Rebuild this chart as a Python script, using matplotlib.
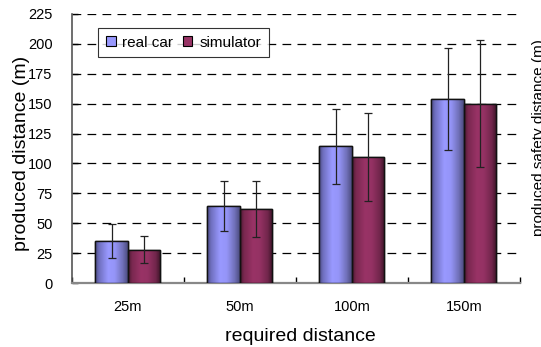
import numpy as np
import matplotlib.pyplot as plt
from matplotlib.colors import LinearSegmentedColormap
from matplotlib.patches import Rectangle

plt.rcParams['font.family'] = ['Liberation Sans', 'DejaVu Sans']

# Mean produced distance and spread per required distance
categories = ['25m', '50m', '100m', '150m']
real_car = [35.2, 64.5, 114.2, 153.6]
real_car_err = [14.5, 20.7, 31.6, 42.5]
simulator = [28.0, 62.0, 105.5, 150.0]
simulator_err = [11.0, 23.5, 36.8, 53.0]
y_ticks = [0, 25, 50, 75, 100, 125, 150, 175, 200, 225]

# cylinder-like shading across each bar
real_cmap = LinearSegmentedColormap.from_list(
    'real', [(0, '#4a4a80'), (0.12, '#7070c0'), (0.4, '#9999ff'),
             (0.6, '#9595f8'), (0.85, '#7070b8'), (1, '#4d4d80')])
sim_cmap = LinearSegmentedColormap.from_list(
    'sim', [(0, '#4a1830'), (0.12, '#7a2850'), (0.4, '#993366'),
            (0.6, '#953264'), (0.85, '#72264c'), (1, '#3a1426')])

fig = plt.figure(figsize=(5.41, 3.47), dpi=100)
ax = fig.add_axes([0.133, 0.184, 0.828, 0.776])

x = np.arange(len(categories))
w = 0.29
grad = np.linspace(0, 1, 64).reshape(1, -1)


def shaded_bars(xs, heights, errs, cmap, label):
    bars = ax.bar(xs, heights, w, color=cmap(0.45), edgecolor='black',
                  linewidth=1.0, zorder=3, label=label)
    for b in bars:
        x0, h = b.get_x(), b.get_height()
        im = ax.imshow(grad, cmap=cmap, aspect='auto', zorder=3.5,
                       extent=[x0, x0 + w, 0, h], interpolation='bilinear')
        clip = Rectangle((x0, 0), w, h, transform=ax.transData)
        im.set_clip_path(clip)
        edge = Rectangle((x0, 0), w, h, fill=False, edgecolor='#111111',
                         linewidth=1.0, zorder=4)
        ax.add_patch(edge)
    ax.errorbar(xs, heights, yerr=errs, fmt='none', ecolor='#222222',
                elinewidth=0.9, capsize=3.2, capthick=0.9, zorder=5)
    return bars


shaded_bars(x - w / 2, real_car, real_car_err, real_cmap, 'real car')
shaded_bars(x + w / 2, simulator, simulator_err, sim_cmap, 'simulator')

ax.set_xlim(-0.5, len(categories) - 0.5)
ax.set_ylim(0, 225)
ax.set_yticks(y_ticks)
ax.set_xticks(x)
ax.set_xticks(np.arange(len(categories) + 1) - 0.5, minor=True)
ax.set_xticklabels(categories, fontsize=10.5)
ax.tick_params(axis='x', which='major', length=0, pad=12)
ax.tick_params(axis='x', which='minor', direction='in', length=4,
               width=1, color='black')
ax.tick_params(axis='y', direction='in', length=4, width=1,
               color='black', labelsize=10.5, pad=14)

for v in y_ticks[1:]:
    ax.axhline(v, color='black', linewidth=0.9, linestyle=(0, (7, 5)),
               zorder=1)

for s in ['top', 'right']:
    ax.spines[s].set_visible(False)
ax.spines['left'].set_color('#555555')
ax.spines['left'].set_linewidth(1.2)
ax.spines['bottom'].set_color('#888888')
ax.spines['bottom'].set_linewidth(1.6)

ax.set_xlabel('required distance', fontsize=14)
ax.set_ylabel('produced distance (m)', fontsize=14)
ax.xaxis.set_label_coords(0.511, -0.168)
ax.yaxis.set_label_coords(-0.094, 0.481)

leg = ax.legend(loc='upper left', bbox_to_anchor=(0.058, 0.948), ncol=2,
                fontsize=11, frameon=True, fancybox=False, handlelength=0.65,
                handleheight=0.65, handletextpad=0.45, columnspacing=0.6,
                borderpad=0.5, borderaxespad=0)
leg.get_frame().set_edgecolor('black')
leg.get_frame().set_linewidth(0.8)
for h in leg.legend_handles:
    h.set_edgecolor('black')
    h.set_linewidth(0.8)
leg.set_zorder(6)

# label of the neighbouring panel, cut by the figure edge
fig.text(0.983, 0.605, 'produced safety distance (m)', rotation=90,
         ha='left', va='center', fontsize=11)

fig.savefig('out.png', dpi=100)
